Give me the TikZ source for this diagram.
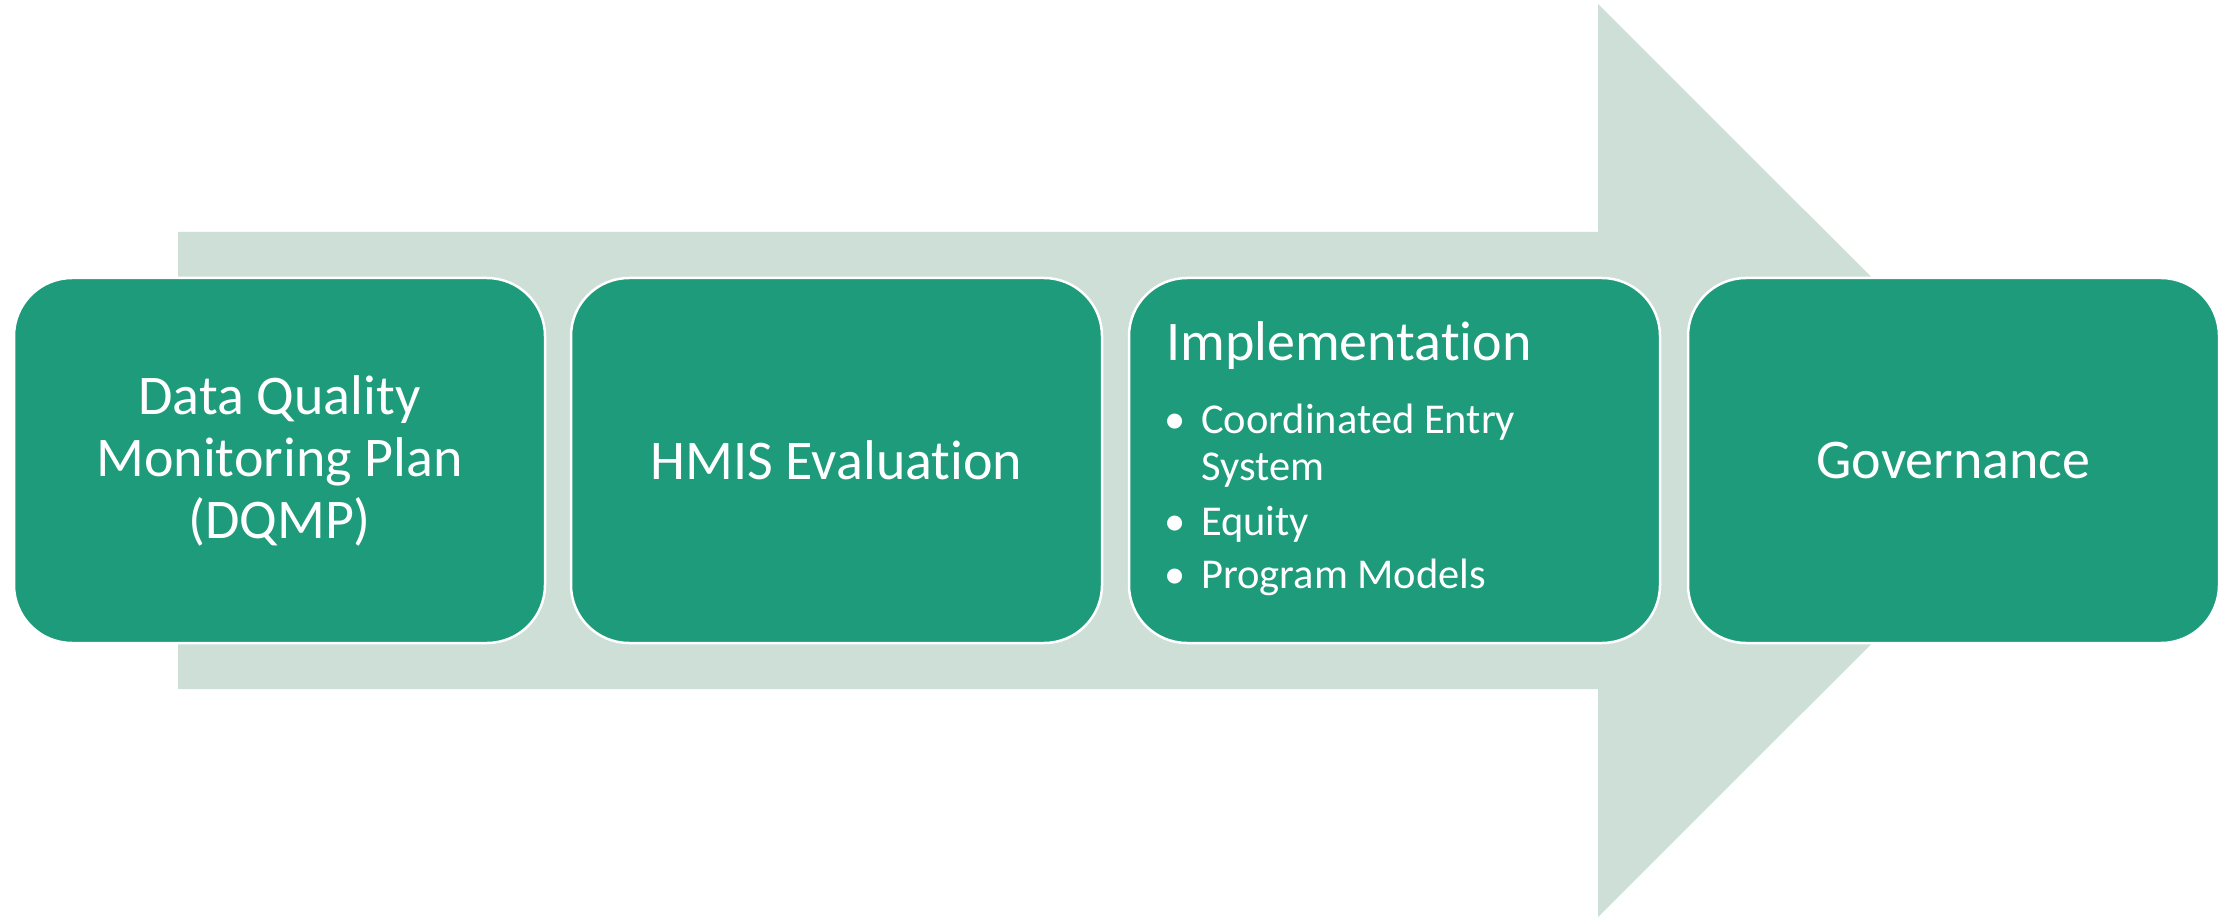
\documentclass[tikz,border=0pt]{standalone}
\usepackage{fontspec}
\setmainfont{Carlito}[Ligatures=NoCommon]
\definecolor{boxgreen}{HTML}{1E9B7A}
\definecolor{arrowgray}{HTML}{CDDFD6}
\tikzset{
  stagebox/.style={draw=white, line width=2.5pt, fill=boxgreen, rounded corners=58pt,
    minimum width=531pt, minimum height=365pt, inner sep=0pt, text=white,
    font=\fontsize{56}{62}\selectfont, align=center},
  headtext/.style={text=white, font=\fontsize{56}{62}\selectfont, anchor=base west, inner sep=0pt},
  itemtext/.style={text=white, font=\fontsize{42.5}{47}\selectfont, anchor=base west, inner sep=0pt},
  bulletmark/.style={text=white, font=\fontsize{42.5}{47}\selectfont, anchor=base, inner sep=0pt}
}
\begin{document}
\begin{tikzpicture}[x=1pt, y=-1pt]
  \useasboundingbox (0,0) rectangle (2233,917);
  \fill[white] (0,0) rectangle (2233,917);
  % big arrow
  \fill[arrowgray] (178,232) -- (1598,232) -- (1598,4) -- (2055,460.5) -- (1598,917) -- (1598,689) -- (178,689) -- cycle;
  % boxes
  \node[stagebox] (dqmp) at (279.5,460.5) {Data Quality\\Monitoring Plan\\(DQMP)};
  \node[stagebox] (hmis) at (836.5,460.5) {HMIS Evaluation};
  \node[stagebox] (impl) at (1394.5,460.5) {};
  \node[stagebox] (gov) at (1953.5,460.5) {Governance};
  % implementation contents
  \node[headtext] (implhead) at (1166,360) {Implementation};
  \node[bulletmark] (b1) at (1175,433) {\textbullet};
  \node[itemtext] (i1) at (1201,433) {Coordinated Entry};
  \node[itemtext] (i1b) at (1201,480) {System};
  \node[bulletmark] (b2) at (1175,535) {\textbullet};
  \node[itemtext] (i2) at (1201,535) {Equity};
  \node[bulletmark] (b3) at (1175,588) {\textbullet};
  \node[itemtext] (i3) at (1201,588) {Program Models};
\end{tikzpicture}
\end{document}
